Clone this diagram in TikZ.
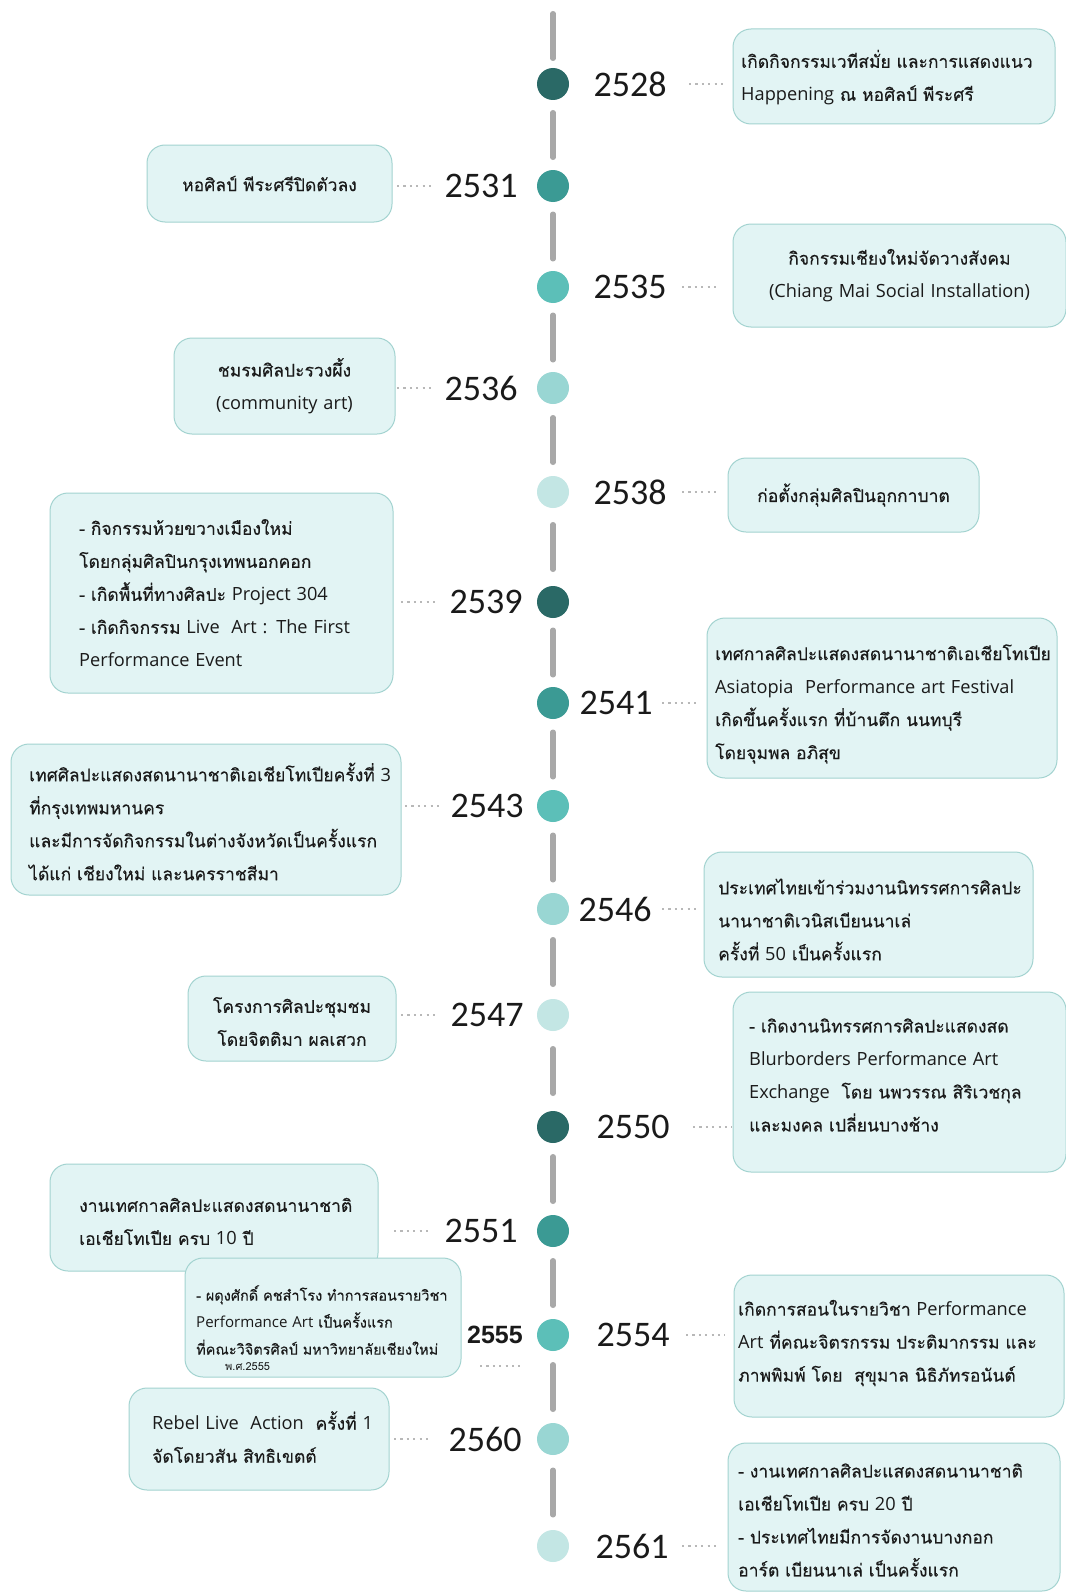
\documentclass[tikz,border=0pt]{standalone}
\usepackage{fontspec}
\newfontfamily\thaifont[Script=Thai,FakeBold=0.3]{Loma}
\newfontfamily\thaithin[Script=Thai]{Loma}
\newfontfamily\latfont[Scale=1.04]{Open Sans}
\newfontfamily\yearfont{Carlito}
\newfontfamily\boldyearfont{Liberation Sans}
\newcommand\lt[1]{{\latfont #1}}
\usetikzlibrary{calc}
\definecolor{cdark}{HTML}{2A6966}
\definecolor{cmed}{HTML}{3B9A94}
\definecolor{cteal}{HTML}{5CBFB8}
\definecolor{clight}{HTML}{99D6D3}
\definecolor{cvlight}{HTML}{C3E6E4}
\definecolor{segc}{HTML}{A8A8A8}
\definecolor{boxfill}{HTML}{E2F4F4}
\definecolor{boxline}{HTML}{A3D3D0}
\definecolor{dotc}{HTML}{B8B8B8}
\definecolor{txt}{HTML}{1A1A1A}
\tikzset{
  tldot/.style={circle, minimum size=32pt, inner sep=0pt, draw=none},
  tlseg/.style={draw=segc, line width=5.5pt, line cap=round},
  tlyear/.style={font=\yearfont\fontsize{36pt}{36pt}\selectfont, text=txt, inner sep=0pt},
  tlboldyear/.style={font=\boldyearfont\bfseries\fontsize{25pt}{25pt}\selectfont, text=txt, inner sep=0pt},
  tldots/.style={draw=dotc, line width=2.2pt, dash pattern=on 2.2pt off 4.2pt},
  tlframe/.style={rounded corners=18pt, fill=boxfill, draw=boxline, line width=1pt, inner sep=0pt},
  tltext/.style={inner sep=0pt, text=txt, font=\thaifont\fontsize{17.5pt}{33pt}\selectfont},
  tlleft/.style={tltext, anchor=west, align=left, text width=420pt},
  tlcenter/.style={tltext, align=center, text width=#1},
  tlsmall/.style={font=\thaifont\fontsize{14.5pt}{27pt}\selectfont},
}
\newcommand\tlbox[5]{% name x1 y1 x2 y2
  \pgfmathsetmacro\tlbw{#4-#2}\pgfmathsetmacro\tlbh{#5-#3}%
  \pgfmathsetmacro\tlcx{(#2+#4)/2}\pgfmathsetmacro\tlcy{(#3+#5)/2}%
  \node[tlframe, minimum width=\tlbw pt, minimum height=\tlbh pt] (#1) at (\tlcx,\tlcy) {};}
\newcommand\tldotline[4]{% name y xa xb
  \coordinate (#1a) at (#3,#2);
  \coordinate (#1b) at (#4,#2);
  \draw[tldots] (#1a) -- (#1b);}
\begin{document}
\begin{tikzpicture}[x=1pt,y=-1pt]
\fill[white] (0,0) rectangle (1065,1592);
\useasboundingbox (0,0) rectangle (1065,1592);

% timeline dots
\node[tldot, fill=cdark]   (c1)  at (553,84)   {};
\node[tldot, fill=cmed]    (c2)  at (553,186)  {};
\node[tldot, fill=cteal]   (c3)  at (553,287)  {};
\node[tldot, fill=clight]  (c4)  at (553,388)  {};
\node[tldot, fill=cvlight] (c5)  at (553,492)  {};
\node[tldot, fill=cdark]   (c6)  at (553,602)  {};
\node[tldot, fill=cmed]    (c7)  at (553,703)  {};
\node[tldot, fill=cteal]   (c8)  at (553,806)  {};
\node[tldot, fill=clight]  (c9)  at (553,909)  {};
\node[tldot, fill=cvlight] (c10) at (553,1015) {};
\node[tldot, fill=cdark]   (c11) at (553,1127) {};
\node[tldot, fill=cmed]    (c12) at (553,1231) {};
\node[tldot, fill=cteal]   (c13) at (553,1335) {};
\node[tldot, fill=clight]  (c14) at (553,1439) {};
\node[tldot, fill=cvlight] (c15) at (553,1546) {};

% line segments
\draw[tlseg] ($(c1)+(0,-70.25)$) -- ($(c1)+(0,-25.75)$);
\foreach \a/\b in {c1/c2,c2/c3,c3/c4,c4/c5,c5/c6,c6/c7,c7/c8,c8/c9,c9/c10,c10/c11,c11/c12,c12/c13,c13/c14,c14/c15}{
  \draw[tlseg] ($(\a)!0.5!(\b)+(0,-22.25)$) -- ($(\a)!0.5!(\b)+(0,22.25)$);
}

% years
\node[tlyear] (y1)  at (630,84)   {2528};
\node[tlyear] (y2)  at (481,186)  {2531};
\node[tlyear] (y3)  at (630,287)  {2535};
\node[tlyear] (y4)  at (481,388)  {2536};
\node[tlyear] (y5)  at (630,492)  {2538};
\node[tlyear] (y6)  at (486,602)  {2539};
\node[tlyear] (y7)  at (616,703)  {2541};
\node[tlyear] (y8)  at (487,806)  {2543};
\node[tlyear] (y9)  at (615,909)  {2546};
\node[tlyear] (y10) at (487,1015) {2547};
\node[tlyear] (y11) at (633,1127) {2550};
\node[tlyear] (y12) at (481,1231) {2551};
\node[tlyear] (y13) at (633,1335) {2554};
\node[tlboldyear] (y16) at (495,1335) {2555};
\node[tlyear] (y14) at (485,1439) {2560};
\node[tlyear] (y15) at (632,1546) {2561};

% dotted connectors
\tldotline{d1}{84}{689}{725}
\tldotline{d2}{186}{397}{435}
\tldotline{d3}{287}{682}{719}
\tldotline{d4}{388}{397}{435}
\tldotline{d5}{492}{682}{719}
\tldotline{d6}{602}{401}{438}
\tldotline{d7}{703}{662}{699}
\tldotline{d8}{806}{405}{443}
\tldotline{d9}{909}{662}{699}
\tldotline{d10}{1015}{401}{438}
\tldotline{d11}{1127}{693}{732}
\tldotline{d12}{1231}{394}{432}
\tldotline{d13}{1335}{686}{725}
\tldotline{d16}{1366}{480}{520}
\tldotline{d14}{1439}{394}{432}
\tldotline{d15}{1546}{682}{719}

% boxes and texts
\tlbox{b1}{733}{29}{1055}{124}
\node[tlleft] (t1) at (741,77.5) {เกิดกิจกรรมเวทีสมั่ย และการแสดงแนว\\\lt{Happening} ณ หอศิลป์ พีระศรี};

\tlbox{b2}{147}{145}{392}{222}
\node[tlcenter=235pt] (t2) at (269.5,183.5) {หอศิลป์ พีระศรีปิดตัวลง};

\tlbox{b3}{733}{224}{1066}{327}
\node[tlcenter=320pt] (t3) at (899.5,275.5) {กิจกรรมเชียงใหม่จัดวางสังคม\\\lt{(Chiang Mai Social Installation)}};

\tlbox{b4}{174}{338}{395}{434}
\node[tlcenter=210pt] (t4) at (284.5,386) {ชมรมศิลปะรวงผึ้ง\\\lt{(community art)}};

\tlbox{b5}{728}{458}{979}{532}
\node[tlcenter=240pt] (t5) at (853.5,495) {ก่อตั้งกลุ่มศิลปินอุกกาบาต};

\tlbox{b6}{50}{493}{393}{693}
\node[tlleft] (t6) at (79,593) {- กิจกรรมห้วยขวางเมืองใหม่\\โดยกลุ่มศิลปินกรุงเทพนอกคอก\\- เกิดพื้นที่ทางศิลปะ \lt{Project 304}\\- เกิดกิจกรรม \lt{Live\ \ Art : The First}\\\lt{Performance Event}};

\tlbox{b7}{707}{618}{1057}{778}
\node[tlleft] (t7) at (715,704) {เทศกาลศิลปะแสดงสดนานาชาติเอเชียโทเปีย\\\lt{Asiatopia\ \ Performance art Festival}\\เกิดขึ้นครั้งแรก ที่บ้านตึก นนทบุรี\\โดยจุมพล อภิสุข};

\tlbox{b8}{11}{744}{401}{895}
\node[tlleft] (t8) at (29,821.5) {เทศศิลปะแสดงสดนานาชาติเอเชียโทเปียครั้งที่ \lt{3}\\ที่กรุงเทพมหานคร\\และมีการจัดกิจกรรมในต่างจังหวัดเป็นครั้งแรก\\ได้แก่ เชียงใหม่ และนครราชสีมา};

\tlbox{b9}{704}{852}{1033}{977}
\node[tlleft] (t9) at (718,919.5) {ประเทศไทยเข้าร่วมงานนิทรรศการศิลปะ\\นานาชาติเวนิสเบียนนาเล่\\ครั้งที่ \lt{50} เป็นครั้งแรก};

\tlbox{b10}{188}{976}{396}{1061}
\node[tlcenter=200pt] (t10) at (292,1021.5) {โครงการศิลปะชุมชม\\โดยจิตติมา ผลเสวก};

\tlbox{b11}{733}{992}{1066}{1172}
\node[tlleft] (t11) at (749,1075) {- เกิดงานนิทรรศการศิลปะแสดงสด\\\lt{Blurborders Performance Art}\\\lt{Exchange}\ \ โดย นพวรรณ สิริเวชกุล\\และมงคล เปลี่ยนบางช้าง};

\tlbox{b12}{50}{1164}{378}{1271}
\node[tlleft] (t12) at (79,1221.5) {งานเทศกาลศิลปะแสดงสดนานาชาติ\\เอเชียโทเปีย ครบ \lt{10} ปี};

\tlbox{b16}{185}{1258}{461}{1377}
\node[tlleft, tlsmall] (t16) at (196,1320) {- ผดุงศักดิ์ คชสำโรง ทำการสอนรายวิชา\\\lt{Performance Art} เป็นครั้งแรก\\ที่คณะวิจิตรศิลป์ มหาวิทยาลัยเชียงใหม่};
\node[tltext, font=\thaithin\fontsize{11pt}{11pt}\selectfont, anchor=west] (t16s) at (225,1367) {พ.ศ.2555};

\tlbox{b13}{734}{1275}{1064}{1417}
\node[tlleft] (t13) at (738,1343) {เกิดการสอนในรายวิชา \lt{Performance}\\\lt{Art} ที่คณะจิตรกรรม ประติมากรรม และ\\ภาพพิมพ์ โดย\ \ สุขุมาล นิธิภัทรอนันต์};

\tlbox{b14}{129}{1388}{389}{1490}
\node[tlleft] (t14) at (152,1437) {\lt{Rebel Live\ \ Action}\ \ ครั้งที่ \lt{1}\\จัดโดยวสัน สิทธิเขตต์};

\tlbox{b15}{728}{1443}{1060}{1591}
\node[tlleft] (t15) at (738,1520) {- งานเทศกาลศิลปะแสดงสดนานาชาติ\\เอเชียโทเปีย ครบ \lt{20} ปี\\- ประเทศไทยมีการจัดงานบางกอก\\อาร์ต เบียนนาเล่ เป็นครั้งแรก};
\end{tikzpicture}
\end{document}
